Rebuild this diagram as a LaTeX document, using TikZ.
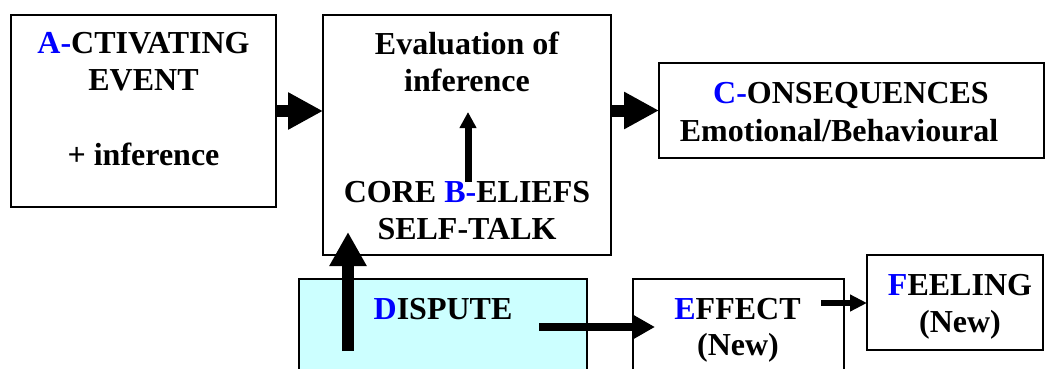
\documentclass[tikz,border=0pt]{standalone}
\usepackage{fontspec}
\setmainfont{Liberation Serif}
\usetikzlibrary{arrows.meta}
\definecolor{lblue}{RGB}{0,0,255}
\definecolor{dfill}{RGB}{204,255,255}
\begin{document}
\begin{tikzpicture}[x=1pt,y=-1pt,
  box/.style={draw,line width=1.5pt,inner sep=0pt,outer sep=0pt},
  lbl/.style={anchor=base,inner sep=0pt,font=\fontsize{32}{37}\selectfont\bfseries},
  blk/.style n args={3}{line width=#1pt,-{Triangle[length=#2pt,width=#3pt]}}]
\useasboundingbox (0,0) rectangle (1055,369);
\clip (0,0) rectangle (1055,369);
% boxes
\node[box,minimum width=265pt,minimum height=192pt] (A) at (143.5,111) {};
\node[box,minimum width=288pt,minimum height=240pt] (B) at (467,135) {};
\node[box,minimum width=385pt,minimum height=95pt] (C) at (851.5,110.5) {};
\node[box,fill=dfill,minimum width=288pt,minimum height=121pt] (D) at (443,339.5) {};
\node[box,minimum width=211pt,minimum height=121pt] (E) at (738.5,339.5) {};
\node[box,minimum width=176pt,minimum height=95pt] (F) at (955,302.5) {};
% texts
\node[lbl] (a1) at (143.5,54) {{\color{lblue}A-}CTIVATING};
\node[lbl] (a2) at (143.5,91) {EVENT};
\node[lbl] (a3) at (143.5,165) {+ inference};
\node[lbl] (b1) at (467,55) {Evaluation of};
\node[lbl] (b2) at (467,92) {inference};
\node[lbl] (b3) at (467,202) {CORE {\color{lblue}B-}ELIEFS};
\node[lbl] (b4) at (467,239) {SELF-TALK};
\node[lbl] (c1) at (851,103) {{\color{lblue}C-}ONSEQUENCES};
\node[lbl] (c2) at (839,141) {Emotional/Behavioural};
\node[lbl] (d1t) at (443,319) {{\color{lblue}D}ISPUTE};
\node[lbl] (e1) at (737.5,319) {{\color{lblue}E}FFECT};
\node[lbl] (e2) at (738,355) {(New)};
\node[lbl] (f1) at (960,295) {{\color{lblue}F}EELING};
\node[lbl] (f2) at (960,332) {(New)};
% connectors
\draw[blk={12}{35}{35}] (A.east) -- (A.east -| B.west);
\draw[blk={12}{35}{35}] (B.east |- C.west) -- (C.west);
\coordinate (bu0) at (468,182);
\coordinate (bu1) at (468,112);
\draw[blk={7}{16}{16}] (bu0) -- (bu1);
\coordinate (du0) at (348,351);
\coordinate (du1) at (348,232);
\draw[blk={12}{34}{35}] (du0) -- (du1);
\coordinate (de0) at (539,327);
\coordinate (de1) at (655,327);
\draw[blk={8}{22}{23}] (de0) -- (de1);
\coordinate (ef0) at (821,303);
\draw[blk={6}{17}{16}] (ef0) -- (ef0 -| F.west);
\end{tikzpicture}
\end{document}
